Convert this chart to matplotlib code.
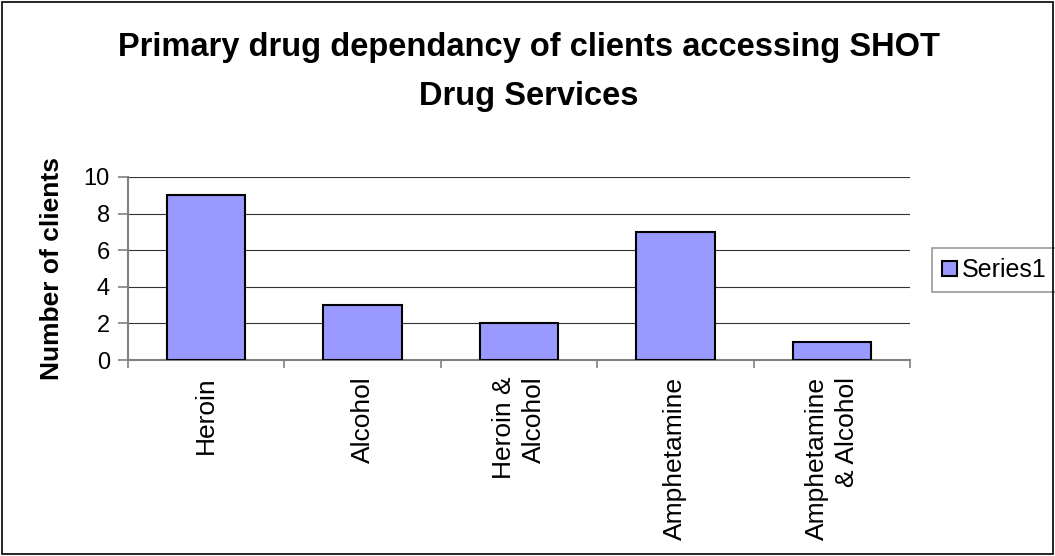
import matplotlib.pyplot as plt
import numpy as np
from matplotlib.patches import Rectangle

plt.rcParams['font.family'] = ['Liberation Sans', 'DejaVu Sans']

categories = ['Heroin', 'Alcohol', 'Heroin &\nAlcohol', 'Amphetamine', 'Amphetamine\n& Alcohol']
clients = [9, 3, 2, 7, 1]
yticks = [0, 2, 4, 6, 8, 10]

fig = plt.figure(figsize=(10.55, 5.56), dpi=100)
ax = fig.add_axes([0.1213, 0.3525, 0.7413, 0.3292])

x = np.arange(len(categories))
ax.bar(x, clients, width=0.5, color='#9999FF', edgecolor='black', linewidth=1.5, zorder=3)

ax.set_xlim(-0.5, len(categories) - 0.5)
ax.set_ylim(0, 10)
ax.set_yticks(yticks)
ax.yaxis.grid(True, color='#333333', linewidth=0.8, zorder=0)
ax.tick_params(axis='y', labelsize=17, length=7, color='#808080', width=1.2, pad=6)

# labels at centres, tick marks at the category boundaries
ax.set_xticks(x)
ax.set_xticklabels(categories, rotation=90, fontsize=19, va='top', ha='center', ma='right',
                   linespacing=1.3)
ax.tick_params(axis='x', which='major', length=0, pad=12)
ax.set_xticks(np.arange(len(categories) + 1) - 0.5, minor=True)
ax.tick_params(axis='x', which='minor', length=6, color='#808080', width=1.2)

for s in ['top', 'right']:
    ax.spines[s].set_visible(False)
for s in ['left', 'bottom']:
    ax.spines[s].set_color('#808080')
    ax.spines[s].set_linewidth(1.5)

ax.set_ylabel('Number of clients', fontsize=19, fontweight='bold', labelpad=14)

fig.text(0.501, 0.870, 'Primary drug dependancy of clients accessing SHOT\nDrug Services',
         ha='center', va='center', fontsize=23.5, fontweight='bold', linespacing=1.75)

leg = ax.legend(['Series1'], loc='center left', bbox_to_anchor=(1.028, 0.49),
                fontsize=18, frameon=True, fancybox=False, handlelength=0.6,
                handleheight=0.6, handletextpad=0.2, borderpad=0.4, borderaxespad=0)
leg.get_frame().set_edgecolor('#808080')
leg.get_frame().set_linewidth(1.2)

fig.patches.append(Rectangle((0.002, 0.003), 0.996, 0.993, transform=fig.transFigure,
                             fill=False, edgecolor='black', linewidth=1.2))

fig.savefig('out.png', dpi=100)
